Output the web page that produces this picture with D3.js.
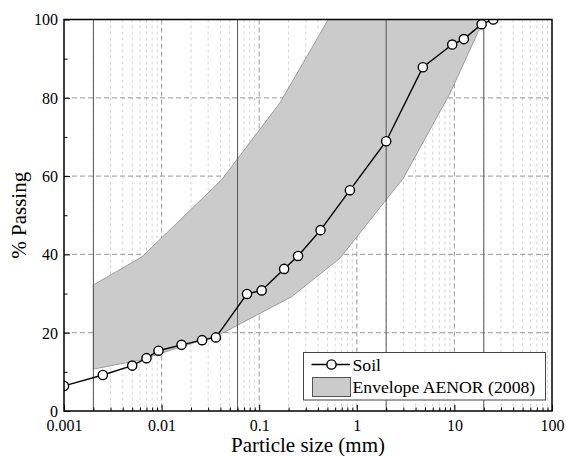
<!DOCTYPE html>
<html><head><meta charset="utf-8">
<script src="https://cdnjs.cloudflare.com/ajax/libs/d3/7.8.5/d3.min.js"></script>
<style>body{margin:0;background:#fff}svg{display:block}
svg text{font-family:"Liberation Serif","Times New Roman",Tinos,Times,"DejaVu Serif",serif;}</style>
</head><body><svg id="c" width="566" height="456"></svg>
<script>
// Data
const soilSize = [0.001, 0.0025, 0.005, 0.007, 0.0093, 0.016, 0.026, 0.036, 0.075, 0.106, 0.18, 0.25, 0.425, 0.85, 2.0, 4.75, 9.5, 12.5, 19, 25];
const soilPass = [6.4, 9.2, 11.6, 13.5, 15.4, 16.9, 18.1, 18.8, 29.9, 30.8, 36.3, 39.6, 46.2, 56.4, 68.9, 87.8, 93.6, 95.0, 98.8, 100];
const upperSize = [0.002, 0.0063, 0.041, 0.163, 0.51, 20];
const upperPass = [32.2, 39.4, 59, 78.7, 100, 100];
const lowerSize = [0.002, 0.006, 0.04, 0.215, 0.67, 3, 9, 20];
const lowerPass = [10.7, 13, 19.6, 29.2, 39, 59.5, 81.1, 100];
const limitSizes = [0.002, 0.06, 2, 20];
const xTicks = [0.001, 0.01, 0.1, 1, 10, 100];
const xTickLabels = ["0.001", "0.01", "0.1", "1", "10", "100"];
const yTicks = [0, 20, 40, 60, 80, 100];
const yMinor = [10, 30, 50, 70, 90];
const seriesNames = ["Soil", "Envelope AENOR (2008)"];
const xTitle = "Particle size (mm)";
const yTitle = "% Passing";

const L = 64, R = 552, T = 19.5, B = 411;
const svg = d3.select("#c");
const x = d3.scaleLog().domain([0.001, 100]).range([L, R]);
const y = d3.scaleLinear().domain([0, 100]).range([B, T]);

const xMinor = [];
for (let d = 0.001; d < 100; d *= 10) for (let k = 2; k <= 9; k++) xMinor.push(+(d * k).toPrecision(3));

svg.append("clipPath").attr("id", "clip").append("rect")
  .attr("x", L).attr("y", T).attr("width", R - L).attr("height", B - T);

const g = svg.append("g");
g.selectAll(".mg").data(xMinor).join("line")
  .attr("x1", d => x(d)).attr("x2", d => x(d)).attr("y1", T).attr("y2", B)
  .attr("stroke", "#d4d4d4").attr("stroke-width", 1).attr("stroke-dasharray", "3,3");
g.selectAll(".vg").data(xTicks.slice(1, -1)).join("line")
  .attr("x1", d => x(d)).attr("x2", d => x(d)).attr("y1", T).attr("y2", B)
  .attr("stroke", "#ababab").attr("stroke-width", 1.2).attr("stroke-dasharray", "5,3");
g.selectAll(".hg").data(yTicks.slice(1, -1)).join("line")
  .attr("x1", L).attr("x2", R).attr("y1", d => y(d)).attr("y2", d => y(d))
  .attr("stroke", "#ababab").attr("stroke-width", 1.2).attr("stroke-dasharray", "5,3");

const upper = upperSize.map((s, i) => [s, upperPass[i]]);
const lower = lowerSize.map((s, i) => [s, lowerPass[i]]);
const poly = upper.concat(lower.slice().reverse());
const plot = svg.append("g").attr("clip-path", "url(#clip)");
plot.append("path")
  .attr("d", d3.line().x(d => x(d[0])).y(d => y(d[1]))(poly) + "Z")
  .attr("fill", "#cbcbcb").attr("stroke", "#8a8a8a").attr("stroke-width", 0.8);

plot.selectAll(".lim").data(limitSizes).join("line")
  .attr("x1", d => x(d)).attr("x2", d => x(d)).attr("y1", T).attr("y2", B)
  .attr("stroke", "#555").attr("stroke-width", 1);

const soil = soilSize.map((s, i) => [s, soilPass[i]]);
plot.append("path").attr("d", d3.line().x(d => x(d[0])).y(d => y(d[1]))(soil))
  .attr("fill", "none").attr("stroke", "#000").attr("stroke-width", 1.4);
plot.selectAll(".pt").data(soil).join("circle")
  .attr("cx", d => x(d[0])).attr("cy", d => y(d[1])).attr("r", 4.6)
  .attr("fill", "#fff").attr("stroke", "#000").attr("stroke-width", 1.4);

const ax = svg.append("g").attr("transform", `translate(0,${B})`)
  .call(d3.axisBottom(x).tickValues(xTicks).tickFormat((d, i) => xTickLabels[i]).tickSize(-6).tickSizeOuter(0).tickPadding(9));
const ax2 = svg.append("g").attr("transform", `translate(0,${B})`)
  .call(d3.axisBottom(x).tickValues(xMinor).tickFormat("").tickSize(-3.5).tickSizeOuter(0));
const ay = svg.append("g").attr("transform", `translate(${L},0)`)
  .call(d3.axisLeft(y).tickValues(yTicks).tickSize(-6).tickSizeOuter(0).tickPadding(6));
const ay2 = svg.append("g").attr("transform", `translate(${L},0)`)
  .call(d3.axisLeft(y).tickValues(yMinor).tickFormat("").tickSize(-3.5).tickSizeOuter(0));
[ax, ax2, ay, ay2].forEach(a => {
  a.attr("font-family", null);
  a.select(".domain").remove();
  a.selectAll("line").attr("stroke", "#000").attr("stroke-width", 1);
  a.selectAll("text").attr("font-size", 16).attr("fill", "#000");
});
ay.selectAll("text").attr("dy", "0.34em");

svg.append("rect").attr("x", L).attr("y", T).attr("width", R - L).attr("height", B - T)
  .attr("fill", "none").attr("stroke", "#000").attr("stroke-width", 1.5);

svg.append("text").attr("x", (L + R) / 2).attr("y", 452).attr("text-anchor", "middle")
  .attr("font-size", 21).text(xTitle);
svg.append("text").attr("transform", `translate(26,${(T + B) / 2}) rotate(-90)`).attr("text-anchor", "middle")
  .attr("font-size", 21).text(yTitle);

const lg = svg.append("g");
lg.append("rect").attr("x", 303.5).attr("y", 352.5).attr("width", 242).attr("height", 47.5)
  .attr("fill", "#fff").attr("stroke", "#444").attr("stroke-width", 1);
lg.append("line").attr("x1", 311.5).attr("x2", 350).attr("y1", 364.5).attr("y2", 364.5)
  .attr("stroke", "#000").attr("stroke-width", 1.4);
lg.append("circle").attr("cx", 331.5).attr("cy", 364.5).attr("r", 4.6)
  .attr("fill", "#fff").attr("stroke", "#000").attr("stroke-width", 1.4);
lg.append("rect").attr("x", 312.5).attr("y", 377.5).attr("width", 38).attr("height", 19)
  .attr("fill", "#cbcbcb").attr("stroke", "#555").attr("stroke-width", 1);
lg.selectAll(".lt").data(seriesNames).join("text")
  .attr("x", 352.5).attr("y", (d, i) => 370.5 + i * 22)
  .attr("font-size", 17.7).attr("fill", "#000").text(d => d);
</script></body></html>
